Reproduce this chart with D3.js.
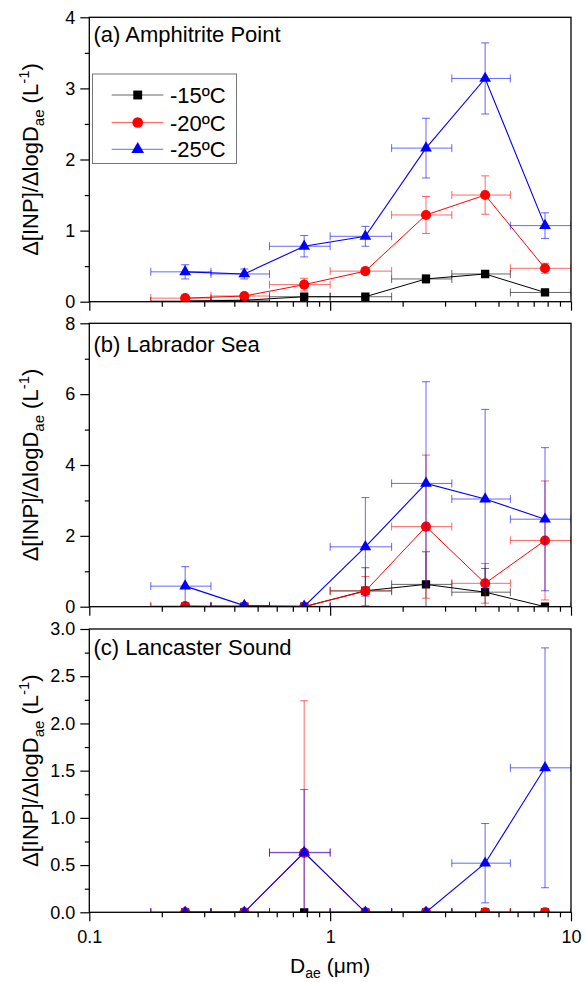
<!DOCTYPE html>
<html><head><meta charset="utf-8">
<script src="https://cdn.jsdelivr.net/npm/d3@7"></script>
<style>body{margin:0;background:#fff} svg{display:block;font-family:"Liberation Sans",Arial,sans-serif}</style>
</head><body><svg id="c" width="585" height="982"></svg>
<script>
// ---- data ----
const xMid  = [0.25, 0.44, 0.78, 1.4, 2.5, 4.4, 7.8];
const xLow  = [0.18, 0.32, 0.56, 1.0, 1.8, 3.2, 5.6];
const xHigh = [0.32, 0.56, 1.0, 1.8, 3.2, 5.6, 10];

const seriesNames = ["-15ºC", "-20ºC", "-25ºC"];
const seriesColors = ["#000000", "#ff0000", "#0000ff"];

const panelLabels = ["(a) Amphitrite Point", "(b) Labrador Sea", "(c) Lancaster Sound"];

// panel a
const a15 = [0.01, 0.02, 0.07, 0.07, 0.32, 0.39, 0.13];
const a15Err = [0.01, 0.01, 0.02, 0.02, 0.06, 0.04, 0.02];
const a20 = [0.05, 0.08, 0.24, 0.43, 1.22, 1.50, 0.47];
const a20Err = [0.02, 0.03, 0.09, 0.05, 0.26, 0.27, 0.07];
const a25 = [0.42, 0.39, 0.78, 0.92, 2.16, 3.14, 1.07];
const a25Err = [0.10, 0.07, 0.15, 0.14, 0.42, 0.50, 0.18];
// panel b
const b15 = [0, 0, 0, 0.45, 0.63, 0.41, 0];
const b15Err = [0, 0, 0, 0.65, 0.92, 0.67, 0];
const b20 = [0.02, 0, 0, 0.44, 2.26, 0.66, 1.87];
const b20Err = [0, 0, 0, 0.41, 2.02, 0.56, 1.68];
const b25 = [0.58, 0.03, 0.01, 1.69, 3.48, 3.04, 2.47];
const b25Err = [0.55, 0, 0, 1.39, 2.87, 2.53, 2.02];
// panel c
const c15 = [0, 0, 0, 0, 0, 0, 0];
const c15Err = [0, 0, 0, 0, 0, 0, 0];
const c20 = [0, 0, 0.63, 0, 0, 0, 0];
const c20Err = [0, 0, 1.61, 0, 0, 0, 0];
const c25 = [0, 0, 0.635, 0, 0, 0.52, 1.53];
const c25Err = [0, 0, 0.665, 0, 0, 0.42, 1.27];

// y-axis ticks per panel
const aMajor = [0, 1, 2, 3, 4], aMinor = [0.5, 1.5, 2.5, 3.5];
const bMajor = [0, 2, 4, 6, 8], bMinor = [1, 3, 5, 7];
const cMajor = [0, 0.5, 1.0, 1.5, 2.0, 2.5, 3.0], cMinor = [0.25, 0.75, 1.25, 1.75, 2.25, 2.75];
const xMajor = [0.1, 1, 10];
const xMinor = [0.2,0.3,0.4,0.5,0.6,0.7,0.8,0.9,2,3,4,5,6,7,8,9];

// ---- layout ----
const svg = d3.select("#c");
const L = 89.3, R = 571;
const panels = [
  {top: 17.3, bottom: 301.7, yMax: 4, major: aMajor, minor: aMinor, fmt: d3.format("d"), labelY: 41.5,
   series: [[a15, a15Err], [a20, a20Err], [a25, a25Err]], legend: true},
  {top: 323.3, bottom: 606.7, yMax: 8, major: bMajor, minor: bMinor, fmt: d3.format("d"), labelY: 351.5,
   series: [[b15, b15Err], [b20, b20Err], [b25, b25Err]]},
  {top: 629, bottom: 912.3, yMax: 3, major: cMajor, minor: cMinor, fmt: d3.format(".1f"), labelY: 655,
   series: [[c15, c15Err], [c20, c20Err], [c25, c25Err]], xLabels: true}
];
const x = d3.scaleLog().domain([0.1, 10]).range([L, R]);
const shapes = [d3.symbolSquare, d3.symbolCircle, d3.symbolTriangle];
const shapeSizes = [69, 80, 60];
const lineWidths = [1, 1, 1.12];

panels.forEach((p, pi) => {
  const y = d3.scaleLinear().domain([0, p.yMax]).range([p.bottom, p.top]);
  const g = svg.append("g");
  const clipId = "clip" + pi;
  svg.append("clipPath").attr("id", clipId).append("rect")
    .attr("x", L).attr("y", p.top).attr("width", R - L).attr("height", p.bottom - p.top);

  // axes
  const yMinorAx = d3.axisLeft(y).tickValues(p.minor).tickSize(4.5).tickFormat("").tickSizeOuter(0);
  const yMajorAx = d3.axisLeft(y).tickValues(p.major).tickSize(9).tickPadding(5).tickFormat(p.fmt).tickSizeOuter(0);
  const xMinorAx = d3.axisBottom(x).tickValues(xMinor).tickSize(5).tickFormat("").tickSizeOuter(0);
  const xMajorAx = d3.axisBottom(x).tickValues(xMajor).tickSize(9).tickPadding(9).tickSizeOuter(0)
    .tickFormat(p.xLabels ? (d => d3.format("~g")(d)) : "");
  [[yMinorAx, `translate(${L},0)`], [yMajorAx, `translate(${L},0)`],
   [xMinorAx, `translate(0,${p.bottom})`], [xMajorAx, `translate(0,${p.bottom})`]].forEach(([ax, tr]) => {
    const a = g.append("g").attr("transform", tr).call(ax);
    a.select(".domain").remove();
    a.selectAll("line").attr("stroke", "#000").attr("stroke-width", 1.2);
    a.selectAll("text").attr("font-size", 18).attr("fill", "#000")
      .attr("font-family", '"Liberation Sans",Arial,sans-serif');
  });

  // data
  const dg = g.append("g").attr("clip-path", `url(#${clipId})`);
  p.series.forEach(([vals, errs], si) => {
    const col = seriesColors[si];
    const sg = dg.append("g");
    const pts = vals.map((v, i) => ({x: xMid[i], lo: xLow[i], hi: xHigh[i], v, e: errs[i]}));
    const eg = sg.append("g").attr("stroke", col).attr("stroke-width", 1).attr("stroke-opacity", 0.6).attr("fill", "none");
    pts.forEach(d => {
      const cy = y(d.v), cx = x(d.x);
      eg.append("line").attr("x1", x(d.lo)).attr("x2", x(d.hi)).attr("y1", cy).attr("y2", cy);
      eg.append("line").attr("x1", x(d.lo)).attr("x2", x(d.lo)).attr("y1", cy - 4).attr("y2", cy + 4);
      eg.append("line").attr("x1", x(d.hi)).attr("x2", x(d.hi)).attr("y1", cy - 4).attr("y2", cy + 4);
      if (d.e > 0) {
        const t = y(d.v + d.e), b = y(d.v - d.e);
        eg.append("line").attr("x1", cx).attr("x2", cx).attr("y1", t).attr("y2", b);
        eg.append("line").attr("x1", cx - 4).attr("x2", cx + 4).attr("y1", t).attr("y2", t);
        eg.append("line").attr("x1", cx - 4).attr("x2", cx + 4).attr("y1", b).attr("y2", b);
      }
    });
    sg.append("path").datum(pts)
      .attr("d", d3.line().x(d => x(d.x)).y(d => y(d.v)))
      .attr("fill", "none").attr("stroke", col).attr("stroke-width", lineWidths[si]);
    sg.selectAll("path.m").data(pts).enter().append("path").attr("class", "m")
      .attr("d", d3.symbol().type(shapes[si]).size(shapeSizes[si]))
      .attr("transform", d => `translate(${x(d.x)},${y(d.v)})`)
      .attr("fill", col);
  });

  // frame
  g.append("rect").attr("x", L).attr("y", p.top).attr("width", R - L).attr("height", p.bottom - p.top)
    .attr("fill", "none").attr("stroke", "#000").attr("stroke-width", 1.3);

  // panel label
  g.append("text").attr("x", 93.5).attr("y", p.labelY).attr("font-size", 22).text(panelLabels[pi]);

  // y title
  const cy = (p.top + p.bottom) / 2;
  const t = g.append("text").attr("transform", `translate(37.5,${cy}) rotate(-90)`)
    .attr("text-anchor", "middle").attr("font-size", 22);
  t.append("tspan").text("Δ[INP]/ΔlogD");
  t.append("tspan").attr("font-size", 15).attr("dy", 6).text("ae");
  t.append("tspan").attr("dy", -6).text(" (L");
  t.append("tspan").attr("font-size", 15).attr("dy", -9).text("-1");
  t.append("tspan").attr("dy", 9).text(")");

  // legend
  if (p.legend) {
    const lg = g.append("g");
    lg.append("rect").attr("x", 92.5).attr("y", 74).attr("width", 144).attr("height", 89.5)
      .attr("fill", "#fff").attr("stroke", "#777").attr("stroke-width", 1);
    const rows = [95, 122.5, 149.3];
    seriesNames.forEach((n, si) => {
      lg.append("line").attr("x1", 111.7).attr("x2", 163.3).attr("y1", rows[si]).attr("y2", rows[si])
        .attr("stroke", seriesColors[si]).attr("stroke-width", 1).attr("stroke-opacity", 0.6);
      lg.append("path").attr("d", d3.symbol().type(shapes[si]).size(shapeSizes[si] + 10)())
        .attr("transform", `translate(137.7,${rows[si]})`).attr("fill", seriesColors[si]);
      lg.append("text").attr("x", 170).attr("y", rows[si] + 8).attr("font-size", 22).text(n);
    });
  }
});

// x title
const xt = svg.append("text").attr("x", (L + R) / 2).attr("y", 973).attr("text-anchor", "middle").attr("font-size", 21);
xt.append("tspan").text("D");
xt.append("tspan").attr("font-size", 14).attr("dy", 5).text("ae");
xt.append("tspan").attr("dy", -5).text(" (μm)");
</script></body></html>
